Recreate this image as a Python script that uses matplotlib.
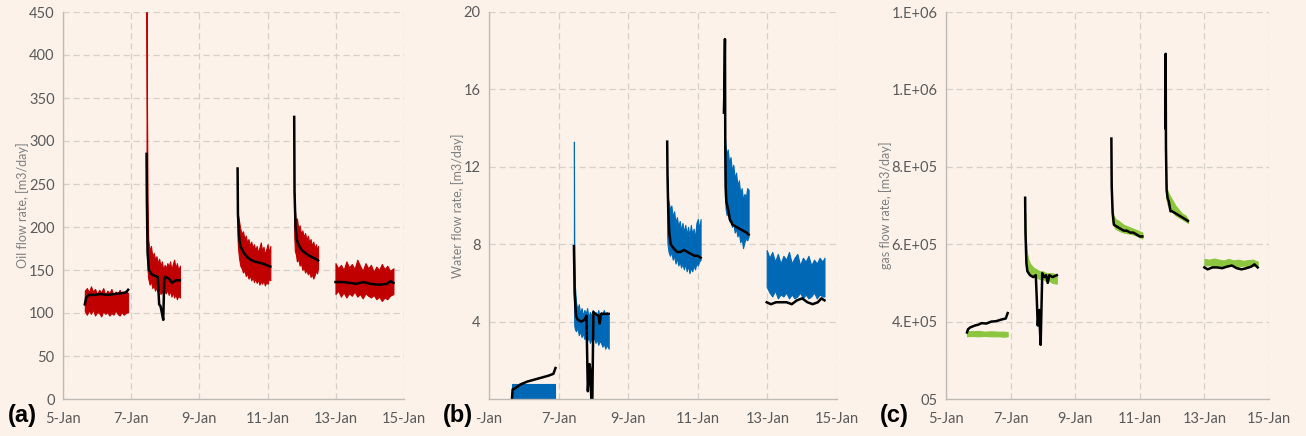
import matplotlib
matplotlib.use("Agg")
import matplotlib.pyplot as plt

# ─── style ─────────────────────────────────────────────
BG = "#FCF2EA"
GRID = "#D6D0CA"
SPINE = "#BFBAB5"
TICK_COL = "#595959"
plt.rcParams.update({
    "font.family": ["Lato", "DejaVu Sans"],
    "font.size": 10,
    "figure.facecolor": BG,
    "axes.facecolor": BG,
})

# ─── data (days since 5-Jan) ────────────────────────────
x_ticks = [0, 2, 4, 6, 8, 10]
x_labels = ["5-Jan", "7-Jan", "9-Jan", "11-Jan", "13-Jan", "15-Jan"]
x_labels_b = ["-Jan", "7-Jan", "9-Jan", "11-Jan", "13-Jan", "15-Jan"]

oil_ticks = [0, 50, 100, 150, 200, 250, 300, 350, 400, 450]
water_ticks = [4, 8, 12, 16, 20]
gas_ticks = [2e5, 4e5, 6e5, 8e5, 1e6, 1.2e6]
gas_labels = ["05", "4.E+05", "6.E+05", "8.E+05", "1.E+06", "1.E+06"]

# oil: measured band (low/high) and model line, per test segment
oil_band_days = [
    [0.64, 0.7, 0.76, 0.82, 0.88, 0.94, 1.0, 1.06, 1.12, 1.18, 1.24, 1.3, 1.36, 1.42, 1.48, 1.54,
     1.6, 1.66, 1.72, 1.78, 1.84, 1.91],
    [2.45, 2.46, 2.48, 2.5, 2.54, 2.58, 2.62, 2.66, 2.7, 2.74, 2.78, 2.82, 2.86, 2.9, 2.94, 2.98,
     3.02, 3.06, 3.1, 3.14, 3.18, 3.22, 3.26, 3.3, 3.34, 3.38, 3.43],
    [5.12, 5.14, 5.17, 5.2, 5.24, 5.28, 5.32, 5.36, 5.4, 5.44, 5.48, 5.52, 5.56, 5.6, 5.64, 5.68,
     5.72, 5.76, 5.8, 5.84, 5.88, 5.92, 5.96, 6.0, 6.04, 6.08],
    [6.78, 6.8, 6.83, 6.86, 6.9, 6.94, 6.98, 7.02, 7.06, 7.1, 7.14, 7.18, 7.22, 7.26, 7.3, 7.34,
     7.38, 7.42, 7.45, 7.48],
    [7.99, 8.07, 8.15, 8.23, 8.31, 8.39, 8.47, 8.55, 8.63, 8.71, 8.79, 8.87, 8.95, 9.03, 9.11, 9.19,
     9.27, 9.35, 9.43, 9.51, 9.59, 9.69],
]
oil_band_high = [
    [126, 129, 124, 131, 125, 128, 122, 127, 124, 129, 121, 126, 123, 128, 120, 125, 122, 127, 121, 124, 126, 123],
    [450, 360, 230, 185, 172, 178, 165, 170, 162, 166, 158, 163, 155, 160, 150, 156, 152, 158, 154, 160,
     150, 157, 162, 152, 158, 150, 155],
    [215, 212, 205, 198, 192, 195, 186, 190, 182, 186, 178, 183, 176, 180, 173, 178, 170, 176, 182, 172,
     177, 168, 174, 180, 170, 178],
    [240, 220, 205, 210, 198, 202, 192, 196, 188, 193, 185, 190, 182, 186, 178, 183, 175, 180, 172, 178],
    [158, 152, 156, 150, 160, 153, 157, 151, 162, 155, 149, 158, 152, 156, 148, 154, 150, 157, 151, 155, 149, 152],
]
oil_band_low = [
    [102, 98, 103, 99, 104, 97, 101, 100, 96, 102, 99, 101, 97, 100, 98, 103, 99, 97, 101, 98, 100, 101],
    [230, 175, 150, 140, 133, 137, 129, 132, 126, 130, 124, 128, 122, 126, 120, 125, 123, 127, 121, 126,
     119, 124, 118, 122, 116, 120, 118],
    [185, 172, 162, 155, 152, 147, 150, 143, 146, 140, 144, 138, 142, 136, 140, 135, 139, 133, 137, 134,
     138, 132, 136, 134, 140, 138],
    [190, 172, 168, 160, 163, 155, 158, 150, 153, 147, 150, 145, 148, 142, 145, 140, 144, 150, 146, 152],
    [122, 126, 119, 124, 118, 123, 120, 125, 119, 122, 117, 123, 120, 118, 121, 116, 119, 114, 118, 116, 120, 122],
]
oil_fit_days = [
    [0.64, 0.68, 0.75, 0.9, 1.1, 1.3, 1.5, 1.7, 1.85, 1.91],
    [2.45, 2.46, 2.48, 2.52, 2.6, 2.7, 2.78, 2.82, 2.86, 2.9, 2.94, 2.97, 3.0, 3.1, 3.2, 3.3, 3.43],
    [5.12, 5.13, 5.16, 5.2, 5.3, 5.4, 5.5, 5.6, 5.7, 5.8, 5.9, 6.0, 6.08],
    [6.78, 6.79, 6.82, 6.86, 6.9, 7.0, 7.1, 7.2, 7.3, 7.4, 7.48],
    [7.99, 8.2, 8.4, 8.6, 8.8, 9.0, 9.2, 9.35, 9.5, 9.6, 9.69],
]
oil_fit_vals = [
    [110, 118, 121, 121, 122, 121, 122, 123, 124, 127],
    [285, 230, 170, 150, 145, 143, 142, 110, 108, 100, 92, 140, 142, 140, 135, 138, 138],
    [268, 215, 190, 178, 170, 165, 162, 160, 159, 158, 157, 155, 154],
    [328, 240, 200, 185, 180, 173, 170, 167, 165, 163, 161],
    [136, 136, 135, 134, 136, 134, 133, 133, 134, 137, 135],
]

# water
water_band_days = [
    [0.66, 1.91],
    [2.44, 2.45, 2.47, 2.5, 2.54, 2.58, 2.62, 2.66, 2.7, 2.74, 2.78, 2.82, 2.86, 2.9, 2.94, 2.98,
     3.02, 3.06, 3.1, 3.14, 3.18, 3.22, 3.26, 3.3, 3.34, 3.38, 3.44],
    [5.12, 5.13, 5.16, 5.2, 5.24, 5.28, 5.32, 5.36, 5.4, 5.44, 5.48, 5.52, 5.56, 5.6, 5.64, 5.68,
     5.72, 5.76, 5.8, 5.84, 5.88, 5.92, 5.96, 6.0, 6.04, 6.08],
    [6.77, 6.78, 6.8, 6.83, 6.86, 6.9, 6.94, 6.98, 7.02, 7.06, 7.1, 7.14, 7.18, 7.22, 7.26, 7.3,
     7.34, 7.38, 7.42, 7.46],
    [7.98, 8.06, 8.14, 8.22, 8.3, 8.38, 8.46, 8.54, 8.62, 8.7, 8.78, 8.86, 8.94, 9.02, 9.1, 9.18,
     9.26, 9.34, 9.42, 9.5, 9.58, 9.64],
]
water_band_high = [
    [0.8, 0.8],
    [13.3, 7.5, 5.8, 5.0, 4.6, 4.9, 4.4, 4.7, 4.3, 4.6, 4.4, 4.7, 4.2, 4.5, 4.3, 4.6, 4.2, 4.5, 4.3, 4.6,
     4.2, 4.5, 4.4, 4.6, 4.3, 4.5, 4.3],
    [11.5, 10.5, 10.2, 9.8, 10.0, 9.4, 9.7, 9.1, 9.4, 8.9, 9.2, 8.7, 9.1, 8.6, 9.0, 8.5, 8.9, 8.4, 9.0,
     8.5, 8.8, 8.3, 9.1, 9.3, 8.8, 9.3],
    [15.5, 13.5, 13.0, 12.6, 12.9, 12.2, 12.5, 11.8, 12.1, 11.4, 11.7, 11.0, 11.3, 10.6, 10.9, 10.3,
     10.6, 10.4, 10.9, 10.8],
    [7.7, 7.3, 7.6, 7.1, 7.5, 7.0, 7.4, 7.2, 7.6, 7.0, 7.3, 7.5, 6.9, 7.3, 7.1, 7.4, 6.9, 7.2, 7.0, 7.3, 7.1, 7.3],
]
water_band_low = [
    [0.0, 0.0],
    [5.5, 3.8, 3.6, 3.5, 3.7, 3.3, 3.5, 3.2, 3.4, 3.1, 3.3, 3.0, 3.2, 2.9, 3.1, 3.0, 3.2, 2.9, 3.1, 2.8,
     3.0, 2.9, 2.7, 2.9, 2.6, 2.8, 2.6],
    [8.5, 8.0, 7.6, 7.4, 7.6, 7.2, 7.4, 7.0, 7.3, 6.9, 7.1, 6.8, 7.0, 6.7, 7.0, 6.6, 6.9, 6.5, 6.8, 6.6,
     6.9, 6.7, 7.0, 6.9, 7.1, 7.2],
    [13.0, 10.5, 9.8, 9.5, 9.8, 9.2, 9.4, 8.9, 9.1, 8.6, 8.8, 8.4, 8.6, 8.1, 8.3, 7.8, 8.1, 8.3, 8.2, 8.4],
    [5.8, 5.5, 5.3, 5.6, 5.2, 5.4, 5.3, 5.5, 5.2, 5.4, 5.2, 5.3, 5.5, 5.2, 5.4, 5.2, 5.3, 5.5, 5.2, 5.4, 5.3, 5.3],
]
water_fit_days = [
    [0.66, 0.68, 0.75, 0.9, 1.1, 1.3, 1.5, 1.7, 1.85, 1.91],
    [2.44, 2.46, 2.5, 2.55, 2.65, 2.75, 2.8, 2.84, 2.89, 2.91, 2.94, 2.97, 3.0, 3.05, 3.15, 3.18, 3.22, 3.35, 3.44],
    [5.12, 5.13, 5.15, 5.18, 5.22, 5.3, 5.4, 5.5, 5.6, 5.7, 5.8, 5.9, 6.0, 6.08],
    [6.75, 6.76, 6.78, 6.79, 6.8, 6.82, 6.87, 6.92, 7.0, 7.1, 7.2, 7.3, 7.4, 7.46],
    [7.98, 8.1, 8.25, 8.4, 8.55, 8.7, 8.85, 9.0, 9.15, 9.3, 9.45, 9.55, 9.64],
]
water_fit_vals = [
    [0.0, 0.5, 0.55, 0.75, 0.9, 1.0, 1.1, 1.2, 1.3, 1.6],
    [7.9, 5.5, 4.3, 4.1, 4.0, 4.1, 4.3, 0.4, 1.8, 1.5, 0.0, 0.0, 4.5, 4.4, 4.3, 3.9, 4.4, 4.4, 4.4],
    [13.3, 11.5, 9.8, 8.6, 8.0, 7.8, 7.6, 7.6, 7.7, 7.6, 7.5, 7.4, 7.4, 7.3],
    [14.8, 15.6, 18.6, 13.0, 11.0, 10.2, 9.8, 9.3, 9.0, 8.9, 8.8, 8.7, 8.6, 8.5],
    [5.0, 4.9, 5.0, 5.0, 5.0, 4.9, 5.1, 5.2, 5.0, 4.9, 5.0, 5.2, 5.1],
]

# gas
gas_band_days = [
    [0.65, 0.8, 1.0, 1.2, 1.4, 1.6, 1.8, 1.91],
    [2.45, 2.47, 2.5, 2.55, 2.6, 2.7, 2.8, 2.9, 3.0, 3.1, 3.2, 3.3, 3.43],
    [5.12, 5.14, 5.18, 5.25, 5.35, 5.5, 5.65, 5.8, 5.95, 6.08],
    [6.8, 6.82, 6.85, 6.9, 7.0, 7.1, 7.2, 7.3, 7.4, 7.49],
    [8.0, 8.15, 8.3, 8.45, 8.6, 8.75, 8.9, 9.05, 9.2, 9.35, 9.5, 9.65],
]
gas_band_high = [
    [3.76e5, 3.75e5, 3.76e5, 3.74e5, 3.75e5, 3.74e5, 3.74e5, 3.73e5],
    [6.8e5, 6.2e5, 5.8e5, 5.6e5, 5.5e5, 5.4e5, 5.35e5, 5.3e5, 5.3e5, 5.25e5, 5.25e5, 5.25e5, 5.2e5],
    [7.6e5, 7.0e5, 6.75e5, 6.65e5, 6.6e5, 6.5e5, 6.45e5, 6.4e5, 6.35e5, 6.3e5],
    [8.5e5, 7.6e5, 7.4e5, 7.3e5, 7.15e5, 7.0e5, 6.9e5, 6.8e5, 6.75e5, 6.65e5],
    [5.62e5, 5.6e5, 5.63e5, 5.6e5, 5.58e5, 5.62e5, 5.58e5, 5.6e5, 5.57e5, 5.59e5, 5.6e5, 5.55e5],
]
gas_band_low = [
    [3.62e5, 3.63e5, 3.62e5, 3.63e5, 3.62e5, 3.62e5, 3.61e5, 3.62e5],
    [6.3e5, 5.6e5, 5.4e5, 5.3e5, 5.25e5, 5.2e5, 5.15e5, 5.1e5, 5.1e5, 5.05e5, 5.05e5, 5.0e5, 4.98e5],
    [7.2e5, 6.6e5, 6.5e5, 6.4e5, 6.35e5, 6.3e5, 6.28e5, 6.25e5, 6.2e5, 6.15e5],
    [8.0e5, 7.2e5, 7.05e5, 6.95e5, 6.85e5, 6.75e5, 6.7e5, 6.65e5, 6.6e5, 6.55e5],
    [5.45e5, 5.46e5, 5.44e5, 5.45e5, 5.43e5, 5.45e5, 5.44e5, 5.42e5, 5.45e5, 5.43e5, 5.44e5, 5.45e5],
]
gas_fit_days = [
    [0.65, 0.68, 0.75, 0.9, 1.0, 1.1, 1.25, 1.4, 1.55, 1.7, 1.85, 1.91],
    [2.45, 2.46, 2.49, 2.52, 2.6, 2.7, 2.78, 2.81, 2.84, 2.88, 2.93, 2.98, 3.05, 3.1, 3.15, 3.2, 3.3, 3.43],
    [5.12, 5.13, 5.16, 5.2, 5.3, 5.4, 5.5, 5.6, 5.7, 5.8, 5.9, 6.0, 6.08],
    [6.79, 6.8, 6.81, 6.83, 6.86, 6.9, 6.95, 7.0, 7.1, 7.2, 7.3, 7.4, 7.49],
    [8.0, 8.1, 8.25, 8.4, 8.55, 8.7, 8.85, 9.0, 9.15, 9.3, 9.45, 9.55, 9.65],
]
gas_fit_vals = [
    [3.72e5, 3.8e5, 3.85e5, 3.9e5, 3.92e5, 3.96e5, 3.95e5, 4.0e5, 4.01e5, 4.05e5, 4.08e5, 4.22e5],
    [7.2e5, 6.3e5, 5.5e5, 5.3e5, 5.2e5, 5.15e5, 5.2e5, 4.6e5, 3.9e5, 4.3e5, 3.4e5, 5.25e5, 5.15e5,
     5.2e5, 5.0e5, 5.2e5, 5.15e5, 5.2e5],
    [8.73e5, 7.5e5, 6.8e5, 6.5e5, 6.45e5, 6.4e5, 6.35e5, 6.35e5, 6.3e5, 6.3e5, 6.25e5, 6.2e5, 6.2e5],
    [9.0e5, 1.092e6, 8.5e5, 7.4e5, 7.2e5, 7.1e5, 6.85e5, 6.85e5, 6.8e5, 6.75e5, 6.7e5, 6.65e5, 6.6e5],
    [5.4e5, 5.35e5, 5.4e5, 5.4e5, 5.38e5, 5.42e5, 5.45e5, 5.38e5, 5.35e5, 5.38e5, 5.42e5, 5.48e5, 5.4e5],
]

RED = "#C00000"
BLUE = "#0068B5"
GREEN = "#8CC63F"


def style_axes(ax, yticks, ylim, ylabel, xlabels, ylabels=None):
    ax.set_xlim(0, 10)
    ax.set_ylim(*ylim)
    ax.set_xticks(x_ticks)
    ax.set_xticklabels(xlabels)
    ax.set_yticks(yticks)
    if ylabels is not None:
        ax.set_yticklabels(ylabels)
    ax.grid(True, color=GRID, linestyle=(0, (5, 3)), linewidth=0.9)
    ax.set_axisbelow(True)
    for s in ("top", "right"):
        ax.spines[s].set_visible(False)
    for s in ("left", "bottom"):
        ax.spines[s].set_color(SPINE)
        ax.spines[s].set_linewidth(1.0)
    ax.tick_params(length=0, colors=TICK_COL, labelsize=10.5)
    ax.tick_params(axis="x", pad=9)
    ax.tick_params(axis="y", pad=6)
    ax.set_ylabel(ylabel, color="#7F7F7F", fontsize=9, labelpad=0)


def draw_panel(ax, bdays, blow, bhigh, fdays, fvals, color):
    for t, lo, hi in zip(bdays, blow, bhigh):
        ax.fill_between(t, lo, hi, color=color, linewidth=0.8, edgecolor=color)
    for t, v in zip(fdays, fvals):
        ax.plot(t, v, color="black", linewidth=1.8)


fig = plt.figure(figsize=(13.06, 4.36), dpi=100)
ax_a = fig.add_axes([63 / 1306, 37 / 436, 341 / 1306, 387 / 436])
ax_b = fig.add_axes([489 / 1306, 37 / 436, 348 / 1306, 387 / 436])
ax_c = fig.add_axes([946 / 1306, 37 / 436, 323 / 1306, 387 / 436])

draw_panel(ax_a, oil_band_days, oil_band_low, oil_band_high, oil_fit_days, oil_fit_vals, RED)
style_axes(ax_a, oil_ticks, (0, 450), "Oil flow rate, [m3/day]", x_labels)

draw_panel(ax_b, water_band_days, water_band_low, water_band_high, water_fit_days, water_fit_vals, BLUE)
style_axes(ax_b, water_ticks, (0, 20), "Water flow rate, [m3/day]", x_labels_b)

draw_panel(ax_c, gas_band_days, gas_band_low, gas_band_high, gas_fit_days, gas_fit_vals, GREEN)
style_axes(ax_c, gas_ticks, (2e5, 1.2e6), "gas flow rate, [m3/day]", x_labels, gas_labels)

for label, xpix in (("(a)", 8), ("(b)", 443), ("(c)", 880)):
    fig.text(xpix / 1306, 1 - 415 / 436, label, fontsize=17, fontweight="bold",
             family=["Liberation Sans", "DejaVu Sans"], va="center", ha="left")

fig.savefig("out.png", dpi=100, facecolor=BG)
